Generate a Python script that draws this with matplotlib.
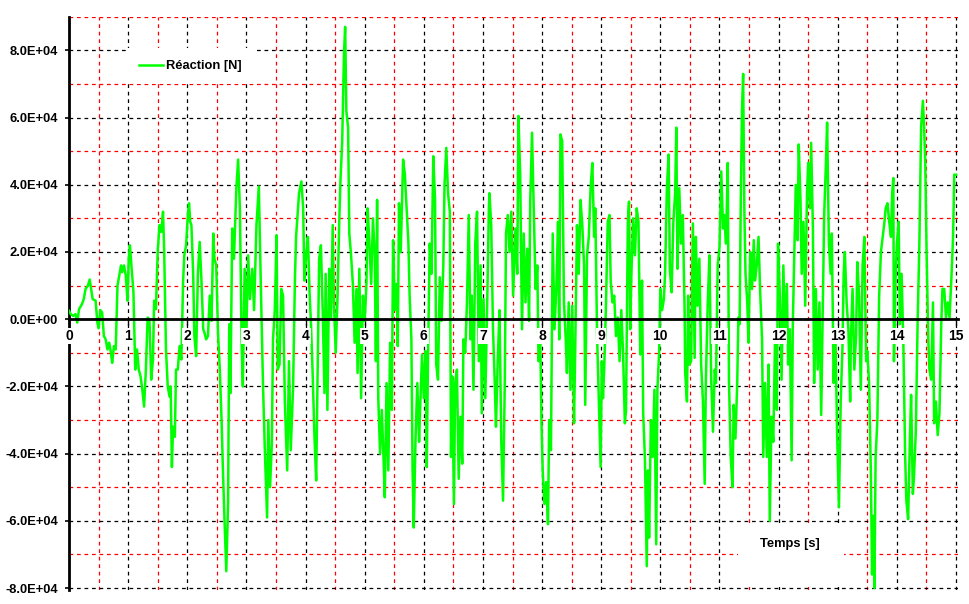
import matplotlib
matplotlib.use("Agg")
import matplotlib.pyplot as plt
from matplotlib.ticker import MultipleLocator, FuncFormatter
from matplotlib.patches import Rectangle
import numpy as np

plt.rcParams['font.family'] = ['Liberation Sans', 'DejaVu Sans']

# time [s]
time_s = [
    0.0, 0.03, 0.07, 0.11, 0.14, 0.17, 0.22, 0.25, 0.28, 0.32, 0.35, 0.37, 0.4, 0.45, 0.48, 0.5,
    0.53, 0.56, 0.59, 0.62, 0.65, 0.68, 0.71, 0.73, 0.76, 0.79, 0.82, 0.85, 0.88, 0.9, 0.93, 0.96,
    0.99, 1.01, 1.03, 1.06, 1.09, 1.12, 1.15, 1.18, 1.21, 1.24, 1.27, 1.3, 1.33, 1.36, 1.39, 1.42,
    1.44, 1.47, 1.5, 1.53, 1.56, 1.59, 1.61, 1.64, 1.67, 1.7, 1.72, 1.74, 1.76, 1.79, 1.81,
    1.84, 1.87, 1.9, 1.93, 1.95, 1.98, 2.01, 2.03, 2.05, 2.07, 2.1, 2.12, 2.15, 2.18, 2.21, 2.24,
    2.27, 2.29, 2.32, 2.35, 2.38, 2.41, 2.44, 2.46, 2.49, 2.52, 2.55, 2.58, 2.6, 2.63, 2.66, 2.69,
    2.71, 2.73, 2.76, 2.79, 2.83, 2.86, 2.89, 2.92, 2.94, 2.97, 3.0, 3.03, 3.06, 3.1, 3.13, 3.17,
    3.21, 3.24, 3.28, 3.31, 3.35, 3.37, 3.4, 3.43, 3.45, 3.48, 3.51, 3.53, 3.56, 3.59, 3.62, 3.65,
    3.69, 3.72, 3.75,
    3.79, 3.82, 3.84, 3.89, 3.93, 3.96, 3.98, 4.01, 4.04, 4.07, 4.09, 4.12, 4.15, 4.18, 4.21, 4.23,
    4.26, 4.29, 4.32, 4.34, 4.37, 4.4, 4.43, 4.46, 4.48, 4.51, 4.54, 4.57, 4.59, 4.62, 4.65, 4.67,
    4.69, 4.72, 4.74, 4.77, 4.8, 4.83, 4.86, 4.88, 4.91, 4.94, 4.97, 5.0, 5.03, 5.05, 5.08, 5.11,
    5.14, 5.17, 5.19, 5.21, 5.23, 5.26, 5.29, 5.32, 5.34, 5.37, 5.4, 5.43, 5.46, 5.48, 5.51, 5.54,
    5.56, 5.58, 5.61,
    5.65, 5.68, 5.71, 5.74, 5.76, 5.79, 5.81, 5.83, 5.86, 5.89, 5.92, 5.94, 5.97, 6.0, 6.03, 6.05,
    6.07, 6.1, 6.13, 6.16, 6.19, 6.21, 6.24, 6.27, 6.3, 6.33, 6.35, 6.38, 6.41, 6.44, 6.46, 6.48,
    6.51, 6.53, 6.56, 6.59, 6.62, 6.65, 6.67, 6.7, 6.73, 6.76, 6.79, 6.81, 6.84, 6.87, 6.9, 6.93,
    6.96, 6.98, 7.01, 7.04, 7.07, 7.1, 7.11, 7.14, 7.17, 7.2, 7.22, 7.25, 7.28, 7.31, 7.34, 7.37,
    7.39, 7.42, 7.45, 7.48, 7.51,
    7.55, 7.58, 7.6, 7.63, 7.66, 7.69, 7.72, 7.75, 7.78, 7.8, 7.83, 7.86, 7.89, 7.92, 7.94, 7.97,
    7.99, 8.01, 8.04, 8.07, 8.1, 8.12, 8.15, 8.18, 8.21, 8.24, 8.27, 8.29, 8.31, 8.34, 8.37, 8.4,
    8.42, 8.45, 8.48, 8.51, 8.54, 8.56, 8.59, 8.62, 8.65, 8.68, 8.71, 8.73, 8.76, 8.79, 8.82, 8.85,
    8.88, 8.9, 8.93, 8.96, 8.99, 9.01, 9.03, 9.05, 9.08, 9.11, 9.14, 9.16, 9.19, 9.22, 9.25, 9.28,
    9.31, 9.34, 9.37, 9.4,
    9.42, 9.45, 9.47, 9.49, 9.51, 9.54, 9.57, 9.6, 9.63, 9.66, 9.69, 9.71, 9.74, 9.77, 9.79, 9.81,
    9.84, 9.87, 9.9, 9.93, 9.95, 9.98, 10.0, 10.03, 10.06, 10.08, 10.11, 10.14, 10.16, 10.19, 10.22,
    10.25, 10.27, 10.29, 10.32, 10.35, 10.38, 10.41, 10.42, 10.45, 10.47, 10.49, 10.52, 10.55, 10.58,
    10.6, 10.63, 10.66, 10.69, 10.72, 10.75, 10.77, 10.8, 10.83, 10.86, 10.89, 10.92, 10.94, 10.97,
    11.0, 11.03, 11.06, 11.08, 11.11, 11.14, 11.16, 11.19, 11.22, 11.24, 11.27, 11.3, 11.32,
    11.34, 11.36, 11.38, 11.4, 11.42, 11.44, 11.47, 11.49, 11.52, 11.55, 11.58, 11.6, 11.63, 11.66,
    11.69, 11.72, 11.74, 11.77, 11.8, 11.83, 11.85, 11.88, 11.91, 11.94, 11.97, 11.99, 12.02, 12.05,
    12.08, 12.11, 12.14, 12.16, 12.19, 12.22, 12.24, 12.27, 12.29, 12.32, 12.34, 12.37, 12.39, 12.42,
    12.45, 12.48, 12.5, 12.53, 12.55, 12.58, 12.6, 12.63, 12.66, 12.69, 12.72, 12.75, 12.77, 12.8,
    12.82, 12.85, 12.88, 12.9, 12.93, 12.96, 12.99, 13.02, 13.05, 13.08, 13.1, 13.12, 13.15, 13.18,
    13.21,
    13.22, 13.25, 13.28, 13.31, 13.33, 13.36, 13.39, 13.42, 13.45, 13.48, 13.5, 13.53, 13.56, 13.58,
    13.6, 13.62, 13.64, 13.67, 13.7, 13.73, 13.76, 13.79, 13.81, 13.84, 13.87, 13.9, 13.92, 13.94,
    13.95, 13.98, 14.0, 14.03, 14.05, 14.08, 14.11, 14.14, 14.16, 14.19, 14.22, 14.24, 14.27, 14.29,
    14.32, 14.35, 14.38, 14.41, 14.44, 14.46, 14.48, 14.5, 14.53, 14.55, 14.58, 14.61, 14.63, 14.66,
    14.69, 14.72, 14.75, 14.77, 14.8, 14.83, 14.86, 14.89, 14.92, 14.95, 14.97, 15.0,
]

# reaction, in units of 1e4 N
reaction_1e4 = [
    0.25, 0.15, 0.1, 0.15, -0.1, 0.3, 0.45, 0.6, 0.9, 1.0, 1.18, 0.95, 0.6, 0.55, -0.1, -0.27,
    0.27, 0.2, -0.5, -0.6, -0.9, -0.7, -1.0, -1.3, -0.8, -0.9, 1.0, 1.3, 1.6, 1.4, 1.6, 1.3,
    0.55, 1.8, 2.2, 1.5, 0.8, -1.5, -0.9, -1.5, -1.7, -2.1, -2.6, -1.5, 0.05, 0.0, -1.8, -1.2,
    0.55, 0.3, 2.0, 2.8, 2.6, 3.2, 2.0, -0.9, -2.0, -2.3, -2.0, -4.4, -3.2, -3.5, -1.5,
    -1.5, -0.8, -1.2, 1.15, 1.9, 2.2, 3.1, 3.45, 2.9, 2.8, 1.35, -0.5, -1.1, 1.35, 2.3, 1.15,
    -0.3, -0.4, -0.6, -0.5, 0.7, -0.05, 2.55, 1.8, 1.6, -0.4, -1.5, -3.0, -4.3, -6.0, -7.5, -5.5,
    -0.15, -2.2, 2.7, 1.8, 3.9, 4.75, 3.3, -0.8, -2.0, 1.5, -0.3, 1.9, 0.6, 1.5, 0.27, 2.8,
    3.95, 1.35, -1.9, -3.8, -5.9, -3.0, -5.0, -3.7, -0.6, 0.27, 2.5, -1.5, -1.35, 0.9, 0.7, -2.45,
    -4.5, -1.25, -3.9,
    -2.0, 1.15, 2.45, 3.75, 4.1, 3.3, 1.15, 1.9, 2.45, 0.7, -0.05, -1.6, -3.45, -4.8, -0.8, 1.8,
    2.2, 0.27, -2.2, 1.35, -2.7, 1.5, 0.05, 2.8, 0.5, -1.0, 0.6, 2.9, 4.1, 5.3, 7.9, 8.7,
    6.2, 5.7, 2.55, 1.9, 1.05, -0.7, 0.9, -1.6, 1.5, -2.35, 0.7, -0.05, 1.05, 3.3, 2.25, 1.05,
    3.0, 1.9, -1.25, 3.55, -2.35, -4.0, -2.7, -4.2, -5.3, -1.9, -4.5, -0.7, -2.7, 2.35, 0.27, 1.05,
    -0.8, 3.45, 2.0,
    4.75, 4.3, 3.3, 2.25, 0.7, -0.6, -4.5, -6.2, -3.55, -1.9, -3.65, -2.55, -1.05, -2.35, -0.95, -4.4,
    -1.25, 2.25, 1.35, 4.85, 3.55, -1.35, -1.8, 1.25, -0.05, 1.6, 4.0, 5.1, 3.75, 3.2, -4.1, -1.7,
    -5.5, -1.9, -1.5, -4.75, -2.9, -4.3, -0.6, -1.0, 0.5, 3.1, -0.6, 0.7, -2.1, 2.25, 3.2, -1.25,
    1.6, -2.8, 0.6, -2.35, 0.27, 3.3, 3.75, 2.8, -0.3, -1.9, -3.2, -1.25, 0.27, -3.65, -5.4, -1.8,
    2.55, 3.1, 2.0, 3.2, 0.7,
    2.7, 1.35, 6.05, 4.3, -0.3, 2.55, 0.5, 2.1, -0.05, 3.55, 5.55, 3.2, 0.9, 1.6, -1.25, -0.6,
    -3.1, -4.5, -5.5, -4.85, -6.1, -3.0, -3.9, 2.55, -0.3, 0.9, 2.9, -0.6, 5.5, 5.3, 0.5, -0.6,
    -1.6, 0.5, -2.1, 0.4, -3.1, -0.95, 2.8, 1.35, 3.55, 2.8, 1.6, -2.55, 1.9, 2.45, 3.9, 4.65,
    2.45, 3.3, -0.5, -2.45, -4.4, -1.25, -2.35, -1.5, 0.4, 2.9, 3.1, 1.15, 0.5, 0.7, -0.5, 0.05,
    -1.25, 0.27, -1.05, -3.1,
    -2.7, 2.9, 3.5, -0.3, 1.35, 3.0, 1.9, 3.3, 2.9, -1.05, 1.15, -2.8, -4.2, -7.35, -4.5, -6.5,
    -3.0, -4.1, -2.1, -6.7, -2.1, -0.95, 0.9, 0.27, 0.6, 1.35, 3.9, 4.9, 1.5, 0.8, 2.9,
    3.75, 5.7, 1.5, 3.9, 2.25, 3.1, 0.27, -1.6, -2.45, 0.7, -1.35, -1.25, 2.85, -1.15,
    2.45, 0.4, 1.8, -1.35, -2.45, -4.9, -1.8, 0.4, 1.9, -1.8, -3.35, -1.5, -1.9, 1.6,
    2.15, 4.4, 2.7, 3.1, 2.25, 4.65, -1.8, -4.1, -5.0, -2.55, -3.55, -1.9, 0.05,
    -0.15, 3.55, 6.2, 7.3, 3.3, 1.35, 0.5, -0.7, 2.0, 0.9, 2.35, 1.15, 1.6, 2.45,
    0.7, -0.6, -4.1, -1.9, -4.1, -1.35, -6.0, -2.9, -3.65, -0.5, -2.7, 2.25, 0.7, -1.8,
    1.6, -0.6, 1.05, -1.35, -0.3, -4.2, -0.15, 2.25, 4.0, 2.35, 5.2, 3.55, 1.35, 2.9,
    0.4, 3.75, 4.65, 3.3, 5.25, 2.7, -1.9, 0.9, -1.5, 0.5, -2.85, 0.7, 3.1, 4.65,
    5.85, 2.25, 1.35, 2.55, -1.9, -0.4, -3.45, -5.6, -2.45, -0.8, 1.35, 2.0, 0.5, -0.3,
    -2.45,
    -0.7, 0.9, -1.5, -0.5, 1.7, 0.7, -2.1, 1.6, 2.45, -1.25, -0.95, -1.9, -4.6, -7.6,
    -5.85, -8.0, -4.1, -3.0, 0.7, 2.0, 2.45, 2.9, 3.3, 3.45, 2.9, 2.45, 3.75, 4.2,
    -1.25, 1.35, 2.25, 2.9, -0.15, 1.35, -0.8, -4.1, -5.4, -5.95, -3.55, -2.25, -5.2, -4.65,
    -3.35, -0.15, 2.25, 5.75, 6.5, 5.75, 4.65, 2.25, -0.6, -1.5, -1.8, 0.5, -3.1, -2.45,
    -3.45, -2.8, -0.15, 0.9, 0.9, 0.05, 0.5, 0.05, 1.15, 2.45, 4.3, 4.3,
]

x_ticks = list(range(0, 16))
series_label = "Réaction [N]"
x_label = "Temps [s]"

t = np.array(time_s)
y = np.array(reaction_1e4) * 1e4

W, H = 970, 604
fig = plt.figure(figsize=(W / 100, H / 100), dpi=100)
ax = fig.add_axes([0.07113, 0.0237, 0.9163, 0.9485])

ax.set_xlim(0, 15.03)
ax.set_ylim(-8.05e4, 9.0e4)

ax.plot(t, y, color='#00ff00', lw=1.8, zorder=3, label=series_label)

# grid
ax.set_xticks(x_ticks)
ax.xaxis.set_minor_locator(MultipleLocator(0.5))
ax.yaxis.set_major_locator(MultipleLocator(2e4))
ax.yaxis.set_minor_locator(MultipleLocator(1e4))
ax.set_axisbelow(True)
ax.grid(True, which='major', color='black', linestyle=(0, (3, 3)), lw=0.9)
ax.grid(True, which='minor', color='red', linestyle=(0, (3, 3)), lw=0.9)

# spines
for s in ('top', 'right'):
    ax.spines[s].set_visible(False)
ax.spines['left'].set_linewidth(2.0)
ax.spines['bottom'].set_position(('data', 0))
ax.spines['bottom'].set_linewidth(2.0)
ax.spines['bottom'].set_zorder(4)

ax.yaxis.set_major_formatter(FuncFormatter(lambda v, p: f"{v:.1E}"))
ax.tick_params(axis='y', which='major', length=3, width=1.2, pad=5, labelsize=9.3)
ax.tick_params(axis='x', which='major', length=4, width=1.0, labelbottom=False)
ax.tick_params(which='minor', length=0)
for lab in ax.get_yticklabels():
    lab.set_fontweight('bold')

# x tick labels drawn above the curve, on a white background
for k in x_ticks:
    ax.annotate(str(k), xy=(k, 0), xytext=(0, -7), textcoords='offset points',
                ha='center', va='top', fontsize=10, fontweight='bold', zorder=5,
                annotation_clip=False,
                bbox=dict(boxstyle='square,pad=0.08', facecolor='white', edgecolor='none'))

# legend
leg = ax.legend(loc='upper left', bbox_to_anchor=(0.0653, 0.9459), borderaxespad=0,
                frameon=True, fancybox=False, facecolor='white', edgecolor='none',
                framealpha=1.0, handlelength=1.85, handletextpad=0.25, borderpad=0.95,
                prop={'weight': 'bold', 'size': 9.3})
leg.set_zorder(6)

# x axis title box
ax.add_patch(Rectangle((0.7527, 0.0051), 0.1193, 0.1117, transform=ax.transAxes,
                       facecolor='white', edgecolor='none', zorder=1))
ax.text(0.8112, 0.0801, x_label, transform=ax.transAxes, ha='center', va='center',
        fontsize=9.3, fontweight='bold', zorder=6)

fig.savefig('out.png', dpi=100)
